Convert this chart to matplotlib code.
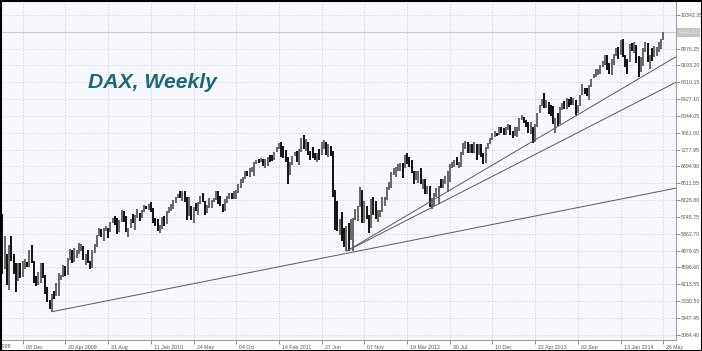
import numpy as np
import pandas as pd
import matplotlib
matplotlib.use('Agg')
from matplotlib import pyplot as plt
from matplotlib.patches import Rectangle
from matplotlib.transforms import ScaledTranslation

# weekly DAX bars, first week starts Mon 29 Sep 2008
first_week = '2008-09-29'

highs = [
    # 2008
    6100, 5810, 5300, 4900, 5100, 5300, 4900, 4700, 4700, 4700, 4750, 4780, 4710, 4990,
    # 2009
    5111, 4750, 4400, 4500, 4700, 4700, 4420, 4150, 3850, 4000, 4060, 4230, 4470, 4430, 4640, 4620,
    4800, 5020, 5000, 5030, 5000, 5150, 5120, 5090, 4900, 5000, 4750, 5000, 5140, 5340, 5500, 5480,
    5500, 5530, 5500, 5640, 5730, 5760, 5730, 5680, 5900, 5890, 5770, 5500, 5700, 5820, 5800, 5930,
    5840, 5900, 6010, 6000,
    # 2010
    6050, 6094, 5950, 5720, 5700, 5560, 5740, 5760, 5890, 5960, 6050, 6120, 6200, 6260, 6341, 6330,
    6340, 6200, 6200, 5990, 5960, 6060, 6090, 6230, 6300, 6100, 6020, 6170, 6140, 6180, 6340, 6330,
    6220, 6040, 6150, 6220, 6300, 6290, 6330, 6350, 6500, 6610, 6650, 6800, 6800, 6850, 6880, 7000,
    7050, 7070, 7080, 7060,
    # 2011
    7060, 7110, 7150, 7160, 7220, 7340, 7420, 7440, 7350, 7260, 7100, 7000, 7140, 7220, 7250, 7300,
    7530, 7600, 7520, 7450, 7250, 7340, 7200, 7200, 7300, 7440, 7500, 7450, 7400, 7350, 7240, 6350,
    6100, 5700, 5850, 5500, 5530, 5600, 5700, 5720, 5930, 6000, 6430, 6360, 6100, 6000, 5800, 6150,
    6200, 6100, 5900, 5910,
    # 2012
    6200, 6200, 6420, 6530, 6770, 6860, 6870, 6950, 6970, 6980, 7150, 7190, 7100, 7040, 6800, 6800,
    6800, 6850, 6600, 6600, 6460, 6440, 6170, 6300, 6400, 6440, 6600, 6600, 6680, 6800, 6950, 7000,
    7040, 7100, 7000, 7220, 7430, 7480, 7450, 7400, 7400, 7450, 7400, 7400, 7400, 7200, 7330, 7430,
    7550, 7650, 7700, 7660, 7800,
    # 2013
    7800, 7760, 7800, 7870, 7840, 7700, 7780, 7780, 8000, 8060, 8020, 7950, 7900, 7900, 7800, 7850,
    8100, 8300, 8420, 8560, 8400, 8370, 8300, 8270, 8000, 8100, 8250, 8330, 8390, 8450, 8420, 8480,
    8450, 8400, 8300, 8520, 8770, 8670, 8690, 8750, 8880, 9000, 9100, 9100, 9200, 9300, 9420, 9440,
    9250, 9340, 9450, 9600,
    # 2014
    9620, 9760, 9800, 9440, 9350, 9680, 9700, 9730, 9650, 9400, 9380, 9600, 9720, 9700, 9420, 9600,
    9630, 9620, 9720, 9800, 9960,
]

lows = [
    # 2008
    5680, 4450, 4550, 4200, 4080, 4750, 4450, 4030, 4280, 4360, 4370, 4550, 4600, 4600,
    # 2009
    4700, 4250, 4180, 4200, 4250, 4350, 4000, 3800, 3660, 3588, 3880, 3940, 3950, 4300, 4380, 4400,
    4420, 4760, 4700, 4720, 4800, 4900, 4960, 4770, 4650, 4700, 4570, 4575, 4930, 5050, 5320, 5290,
    5200, 5430, 5260, 5400, 5600, 5550, 5350, 5400, 5630, 5620, 5410, 5280, 5490, 5600, 5450, 5710,
    5650, 5730, 5860, 5930,
    # 2010
    5900, 5860, 5600, 5540, 5430, 5380, 5480, 5530, 5580, 5830, 5880, 5930, 6070, 6170, 6180, 6110,
    6080, 5670, 5770, 5670, 5600, 5870, 5800, 6040, 6080, 5800, 5830, 5950, 5950, 6080, 6140, 6050,
    6000, 5850, 5870, 6060, 6150, 6150, 6150, 6160, 6300, 6400, 6520, 6600, 6680, 6650, 6770, 6680,
    6950, 6970, 7000, 6900,
    # 2011
    6860, 6900, 7000, 7010, 7050, 7220, 7300, 7100, 7080, 7000, 6500, 6700, 6930, 7130, 7000, 6930,
    7230, 7300, 7250, 7150, 7030, 7080, 7050, 7000, 7050, 7150, 7300, 7150, 7110, 7120, 6200, 5450,
    5420, 5330, 5200, 5070, 4965, 4960, 5220, 4970, 5670, 5650, 5960, 5600, 5600, 5700, 5370, 5500,
    5800, 5690, 5640, 5750,
    # 2012
    5850, 6000, 6140, 6350, 6400, 6700, 6650, 6800, 6800, 6640, 6850, 6940, 6890, 6750, 6500, 6580,
    6520, 6500, 6370, 6270, 6270, 5960, 5914, 6000, 6200, 6050, 6400, 6400, 6500, 6320, 6550, 6860,
    6890, 6920, 6860, 6880, 7150, 7300, 7200, 7200, 7200, 7200, 7050, 7150, 7100, 6950, 6970, 7280,
    7410, 7500, 7560, 7580, 7600,
    # 2013
    7650, 7620, 7600, 7720, 7600, 7550, 7580, 7560, 7710, 7940, 7880, 7780, 7650, 7640, 7420, 7460,
    7800, 8100, 8270, 8230, 8220, 8090, 8050, 7850, 7650, 7820, 7860, 8180, 8210, 8200, 8250, 8300,
    8300, 8060, 8100, 8270, 8520, 8540, 8500, 8400, 8700, 8900, 8940, 8970, 9000, 9150, 9200, 9080,
    9000, 8970, 9200, 9400,
    # 2014
    9350, 9420, 9380, 9160, 9000, 9280, 9520, 9480, 9250, 8920, 9050, 9170, 9500, 9280, 9100, 9300,
    9380, 9400, 9500, 9560, 9780,
]

closes = [
    # 2008
    5797, 4544, 4782, 4296, 4988, 4800, 4595, 4290, 4669, 4381, 4690, 4690, 4630, 4984,
    # 2009
    4715, 4345, 4225, 4338, 4644, 4414, 4080, 3844, 3696, 3954, 3950, 4010, 4384, 4390, 4583, 4510,
    4770, 4980, 4730, 4920, 4940, 5055, 5070, 4840, 4840, 4730, 4600, 4980, 5130, 5330, 5460, 5370,
    5460, 5490, 5380, 5590, 5700, 5600, 5420, 5640, 5740, 5650, 5415, 5490, 5690, 5650, 5680, 5820,
    5710, 5860, 5960, 5957,
    # 2010
    6037, 5875, 5695, 5608, 5434, 5500, 5720, 5598, 5877, 5935, 6010, 6100, 6180, 6250, 6180, 6330,
    6170, 5720, 5950, 5810, 5946, 5940, 6050, 6216, 6090, 5835, 6010, 6040, 6100, 6148, 6250, 6110,
    6010, 5950, 6100, 6214, 6260, 6210, 6210, 6300, 6500, 6600, 6600, 6750, 6690, 6820, 6850, 6950,
    7010, 7000, 7050, 6914,
    # 2011
    6950, 7075, 7062, 7060, 7220, 7340, 7400, 7190, 7180, 7040, 6660, 6946, 7130, 7216, 7030, 7270,
    7510, 7300, 7400, 7200, 7160, 7110, 7080, 7160, 7120, 7420, 7420, 7210, 7340, 7160, 6240, 5998,
    5480, 5540, 5250, 5190, 5500, 5160, 5500, 5680, 5880, 5970, 6350, 5920, 5980, 5800, 5490, 6080,
    5990, 5700, 5890, 5898,
    # 2012
    6060, 6143, 6404, 6512, 6770, 6790, 6850, 6860, 6920, 6880, 7150, 6990, 6950, 6780, 6580, 6760,
    6800, 6560, 6580, 6270, 6340, 6050, 6140, 6230, 6260, 6420, 6410, 6560, 6630, 6690, 6940, 6950,
    7040, 6970, 6970, 7210, 7410, 7450, 7220, 7400, 7230, 7380, 7200, 7360, 7160, 6950, 7310, 7405,
    7520, 7600, 7640, 7610, 7776,
    # 2013
    7720, 7700, 7780, 7830, 7650, 7590, 7660, 7710, 7990, 8040, 7910, 7800, 7660, 7750, 7460, 7800,
    8100, 8290, 8390, 8300, 8350, 8250, 8130, 7950, 7960, 7860, 8220, 8330, 8290, 8410, 8400, 8360,
    8420, 8100, 8280, 8510, 8670, 8660, 8620, 8720, 8870, 9000, 9000, 9080, 9170, 9230, 9410, 9170,
    9010, 9200, 9430, 9550,
    # 2014
    9470, 9740, 9390, 9310, 9290, 9660, 9650, 9690, 9350, 9060, 9340, 9590, 9700, 9320, 9410, 9400,
    9560, 9580, 9630, 9770, 9943,
]

# trend lines: start week, start price, price where they leave the right edge
trend_start = ['2009-03-09', '2011-09-12', '2011-09-12']
trend_start_price = [3588, 4965, 4965]
trend_end_price = [6400, 8810, 9390]

# price scale labels
y_ticks = [3064.40, 3447.45, 3830.50, 4213.55, 4596.60, 4979.65, 5362.70, 5745.75, 6128.80,
           6511.85, 6894.90, 7277.95, 7661.00, 8044.05, 8427.10, 8810.15, 9193.20, 9576.25,
           9959.30, 10342.35]

x_tick_dates = ['2008-07-28', '2008-12-08', '2009-04-20', '2009-08-31', '2010-01-11', '2010-05-24',
                '2010-10-04', '2011-02-14', '2011-06-27', '2011-11-07', '2012-03-19', '2012-07-30',
                '2012-12-10', '2013-04-22', '2013-09-02', '2014-01-13', '2014-05-26']
x_tick_labels = ['28 Jul 2008', '08 Dec', '20 Apr 2009', '31 Aug', '11 Jan 2010', '24 May',
                 '04 Oct', '14 Feb 2011', '27 Jun', '07 Nov', '19 Mar 2012', '30 Jul',
                 '10 Dec', '22 Apr 2013', '02 Sep', '13 Jan 2014', '26 May']


def week_pos(d):
    return (pd.Timestamp(d) - pd.Timestamp(first_week)).days / 7.0


n = len(closes)
xs = np.arange(n)
highs = np.array(highs)
lows = np.array(lows)
closes = np.array(closes)

fig = plt.figure(figsize=(7.02, 3.51), dpi=100)
fig.patch.set_facecolor('white')
ax = fig.add_axes([1 / 702, 11 / 351, 675 / 702, 338 / 351])
ax.set_facecolor('#f7f8fd')

xmin, xmax = 0.35, 300.65
ax.set_xlim(xmin, xmax)
ax.set_ylim(2944, 10636)

grid_c = '#cfcfcf'
for yv in y_ticks:
    ax.axhline(yv, color=grid_c, lw=0.6, ls=(0, (1.5, 2)), zorder=0)
for d in x_tick_dates:
    ax.axvline(week_pos(d), color=grid_c, lw=0.6, ls=(0, (1.5, 2)), zorder=0)

# last price line
ax.axhline(closes[-1], color='#cccccc', lw=0.8, zorder=1)

# bars
prev = np.concatenate([[closes[0]], closes[:-1]])
cols = np.where(closes >= prev, '#6a6a6a', '#161616')
ax.vlines(xs, lows, highs, colors=cols, lw=1.45, zorder=3)

# trend lines
for d, p0, p1 in zip(trend_start, trend_start_price, trend_end_price):
    ax.plot([week_pos(d), xmax], [p0, p1], color='#5a5a5a', lw=0.7, zorder=4,
            solid_capstyle='butt')

# axes styling
for s in ['top', 'left']:
    ax.spines[s].set_visible(False)
for s in ['right', 'bottom']:
    ax.spines[s].set_color('#a0a0a0')
    ax.spines[s].set_linewidth(0.8)

ax.yaxis.tick_right()
ax.set_yticks(y_ticks)
ax.set_yticklabels(['%.2f' % v for v in y_ticks])
ax.tick_params(axis='y', length=3, width=0.6, color='#808080', pad=0.5,
               labelsize=3.8, labelcolor='#555555')
for lab, v in zip(ax.get_yticklabels(), y_ticks):
    lab.set_fontfamily('Liberation Sans')
    # the last-price box sits on top of this one
    if abs(v - closes[-1]) < 100:
        lab.set_visible(False)

in_range = [(week_pos(d), l) for d, l in zip(x_tick_dates, x_tick_labels)
            if xmin <= week_pos(d) <= xmax]
ax.set_xticks([p for p, _ in in_range])
ax.set_xticklabels([l for _, l in in_range])
ax.tick_params(axis='x', length=3, width=0.6, color='#808080', pad=0.8,
               labelsize=3.8, labelcolor='#555555')
shift = ScaledTranslation(3 / 100, 0, fig.dpi_scale_trans)
for lab in ax.get_xticklabels():
    lab.set_ha('left')
    lab.set_fontfamily('Liberation Sans')
    lab.set_transform(lab.get_transform() + shift)

# first label, mostly outside the chart on the left
ax.text(week_pos(x_tick_dates[0]), 0, x_tick_labels[0], transform=ax.get_xaxis_transform()
        + ScaledTranslation(3 / 100, -4.3 / 100, fig.dpi_scale_trans),
        ha='left', va='top', fontsize=3.8, color='#555555', family='Liberation Sans',
        clip_on=False)

# last price marker on the scale
ax.text(1.0, closes[-1], '%.2f' % closes[-1], transform=ax.get_yaxis_transform()
        + ScaledTranslation(3 / 100, 0, fig.dpi_scale_trans),
        ha='left', va='center', fontsize=3.8, color='#ececec', family='Liberation Sans',
        bbox=dict(boxstyle='square,pad=0.35', fc='#c4c4c4', ec='none'),
        clip_on=False, zorder=10)

fig.text(88 / 702, 1 - 88 / 351, 'DAX, Weekly', fontsize=15.2, fontweight='bold',
         fontstyle='italic', family='Liberation Sans', color='#1b6878', va='baseline')

fig.add_artist(Rectangle((0, 0), 1, 1, transform=fig.transFigure, fill=False,
                         edgecolor='black', lw=2.2))

fig.savefig('out.png', dpi=100)
